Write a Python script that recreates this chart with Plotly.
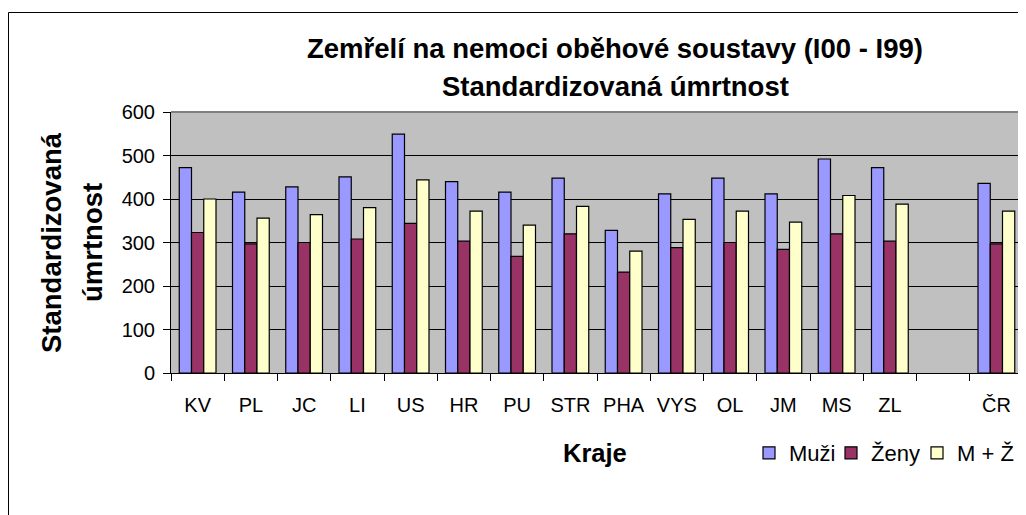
import plotly.graph_objects as go

# ---- data ----
kraje = ["KV", "PL", "JC", "LI", "US", "HR", "PU", "STR", "PHA", "VYS",
         "OL", "JM", "MS", "ZL", " ", "ČR"]
muzi = [472, 416, 428, 451, 549, 440, 416, 448, 328, 412, 448, 412, 492, 472, None, 436]
zeny = [323, 297, 300, 308, 344, 303, 268, 320, 232, 288, 300, 284, 320, 303, None, 297]
mz = [400, 356, 364, 380, 444, 372, 340, 383, 280, 353, 372, 347, 408, 388, None, 372]
y_ticks = [0, 100, 200, 300, 400, 500, 600]

# page body has an 8px margin -> figure is shifted by OFF
OFF = 8
W, H = 1026 - OFF, 515 - OFF
L, R = 171 - OFF, 1026 - 1023
T = 112 - OFF
B = H - (373 - OFF)
PW, PH = W - L - R, H - T - B
FONT = "Liberation Sans, Arial, sans-serif"


def px(x):  # reference pixel x -> paper
    return (x - OFF - L) / PW


def py(y):  # reference pixel y -> paper
    return (H - B - (y - OFF)) / PH


fig = go.Figure()
for name, vals, col, leg in [("Muži", muzi, "#9999FF", "legend"),
                             ("Ženy", zeny, "#993366", "legend2"),
                             ("M + Ž", mz, "#FFFFCC", "legend3")]:
    fig.add_trace(go.Bar(x=kraje, y=vals, name=name, legend=leg,
                         marker=dict(color=col, line=dict(color="black", width=1.2))))

leg_common = dict(orientation="h", yanchor="middle", xanchor="left", y=py(453),
                  font=dict(size=22, family=FONT), bgcolor="rgba(0,0,0,0)",
                  traceorder="normal", itemwidth=30)

fig.update_layout(
    width=W, height=H,
    margin=dict(l=L, r=R, t=T, b=B, autoexpand=False),
    paper_bgcolor="white",
    plot_bgcolor="#C0C0C0",
    barmode="group", bargap=0.31, bargroupgap=0,
    font=dict(family=FONT, color="black"),
    showlegend=True,
    legend=dict(x=px(749), **leg_common),
    legend2=dict(x=px(831), **leg_common),
    legend3=dict(x=px(917), **leg_common),
)
fig.update_xaxes(type="category", categoryorder="array", categoryarray=kraje,
                 showgrid=False, showline=True, linecolor="black", linewidth=1,
                 ticks="outside", tickson="boundaries", ticklen=7, tickcolor="black",
                 ticklabelstandoff=14,
                 tickfont=dict(size=20, family=FONT), fixedrange=True)
fig.update_yaxes(range=[0, 600], tickvals=y_ticks, showgrid=True, gridcolor="black",
                 gridwidth=1, zeroline=False, showline=True, linecolor="black", linewidth=1,
                 ticks="outside", ticklen=7, tickcolor="black",
                 ticklabelstandoff=4,
                 tickfont=dict(size=20, family=FONT), fixedrange=True)

# plot area border (gray, top/right)
fig.add_shape(type="line", xref="paper", yref="paper", x0=0, x1=1, y0=1, y1=1,
              line=dict(color="#808080", width=2), layer="above")
fig.add_shape(type="line", xref="paper", yref="paper", x0=1, x1=1, y0=0, y1=1,
              line=dict(color="#808080", width=2), layer="above")
# outer chart frame (cropped at right and bottom)
fig.add_shape(type="line", xref="paper", yref="paper", x0=px(8.5), x1=px(1040),
              y0=py(12.5), y1=py(12.5), line=dict(color="black", width=1))
fig.add_shape(type="line", xref="paper", yref="paper", x0=px(8.5), x1=px(8.5),
              y0=py(12.5), y1=py(530), line=dict(color="black", width=1))

# titles
fig.add_annotation(text="<b>Zemřelí na nemoci oběhové soustavy (I00 - I99)</b>",
                   xref="paper", yref="paper", x=px(615), y=py(49),
                   xanchor="center", yanchor="middle", showarrow=False,
                   font=dict(size=27.5, family=FONT))
fig.add_annotation(text="<b>Standardizovaná úmrtnost</b>",
                   xref="paper", yref="paper", x=px(615), y=py(86),
                   xanchor="center", yanchor="middle", showarrow=False,
                   font=dict(size=27.5, family=FONT))
fig.add_annotation(text="<b>Standardizovaná</b>", textangle=-90,
                   xref="paper", yref="paper", x=px(51), y=py(243),
                   xanchor="center", yanchor="middle", showarrow=False,
                   font=dict(size=27.5, family=FONT))
fig.add_annotation(text="<b>úmrtnost</b>", textangle=-90,
                   xref="paper", yref="paper", x=px(92), y=py(243),
                   xanchor="center", yanchor="middle", showarrow=False,
                   font=dict(size=27.5, family=FONT))
fig.add_annotation(text="<b>Kraje</b>",
                   xref="paper", yref="paper", x=px(595), y=py(453),
                   xanchor="center", yanchor="middle", showarrow=False,
                   font=dict(size=25.5, family=FONT))

fig.write_html("out.html", config={"displayModeBar": False})
